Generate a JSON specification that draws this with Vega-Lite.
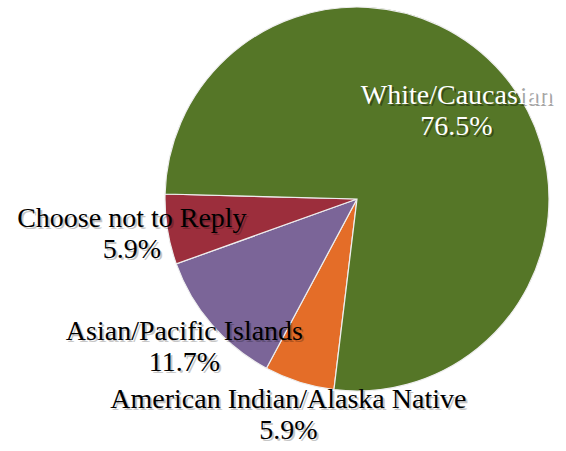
{
  "$schema": "https://vega.github.io/schema/vega-lite/v6.json",
  "width": 418,
  "height": 398,
  "autosize": {"type": "none"},
  "padding": {"left": 148, "top": 0, "right": 0, "bottom": 53},
  "background": "white",
  "view": {"stroke": null},
  "data": {
    "values": [
      {"race": "American Indian/Alaska Native", "pct": 5.9, "label": "American Indian/Alaska Native\n5.9%"},
      {"race": "Asian/Pacific Islands", "pct": 11.7, "label": "Asian/Pacific Islands\n11.7%"},
      {"race": "Choose not to Reply", "pct": 5.9, "label": "Choose not to Reply\n5.9%"},
      {"race": "White/Caucasian", "pct": 76.5, "label": "White/Caucasian\n76.5%"}
    ]
  },
  "encoding": {
    "theta": {"field": "pct", "type": "quantitative", "stack": true, "scale": {"range": [3.262, 9.5452]}},
    "order": {"field": "race", "type": "ordinal", "sort": "ascending"}
  },
  "layer": [
    {
      "mark": {"type": "arc", "outerRadius": 192, "stroke": "#eeeeee", "strokeWidth": 1.2},
      "encoding": {
        "color": {
          "field": "race",
          "type": "nominal",
          "scale": {
            "domain": ["American Indian/Alaska Native", "Asian/Pacific Islands", "Choose not to Reply", "White/Caucasian"],
            "range": ["#E46D28", "#7B6598", "#9C2E3C", "#557627"]
          },
          "legend": null
        }
      }
    },
    {
      "mark": {"type": "text", "radius": 228, "dx": 2, "dy": -14, "font": "Liberation Serif", "fontSize": 28, "lineBreak": "\n", "lineHeight": 31, "align": "center", "baseline": "middle", "fill": "#000000", "opacity": 0.22},
      "encoding": {
        "text": {"condition": {"test": "datum.race !== 'White/Caucasian'", "field": "label"}, "value": ""}
      }
    },
    {
      "mark": {"type": "text", "radius": 228, "dy": -16, "font": "Liberation Serif", "fontSize": 28, "lineBreak": "\n", "lineHeight": 31, "align": "center", "baseline": "middle", "fill": "#000000"},
      "encoding": {
        "text": {"condition": {"test": "datum.race !== 'White/Caucasian'", "field": "label"}, "value": ""}
      }
    },
    {
      "mark": {"type": "text", "radius": 134, "dx": 0, "dy": -13, "font": "Liberation Serif", "fontSize": 28, "lineBreak": "\n", "lineHeight": 31, "align": "center", "baseline": "middle", "fill": "#000000", "opacity": 0.35},
      "encoding": {
        "text": {"condition": {"test": "datum.race === 'White/Caucasian'", "field": "label"}, "value": ""}
      }
    },
    {
      "mark": {"type": "text", "radius": 134, "dx": -2, "dy": -15, "font": "Liberation Serif", "fontSize": 28, "lineBreak": "\n", "lineHeight": 31, "align": "center", "baseline": "middle", "fill": "#ffffff"},
      "encoding": {
        "text": {"condition": {"test": "datum.race === 'White/Caucasian'", "field": "label"}, "value": ""}
      }
    }
  ]
}
